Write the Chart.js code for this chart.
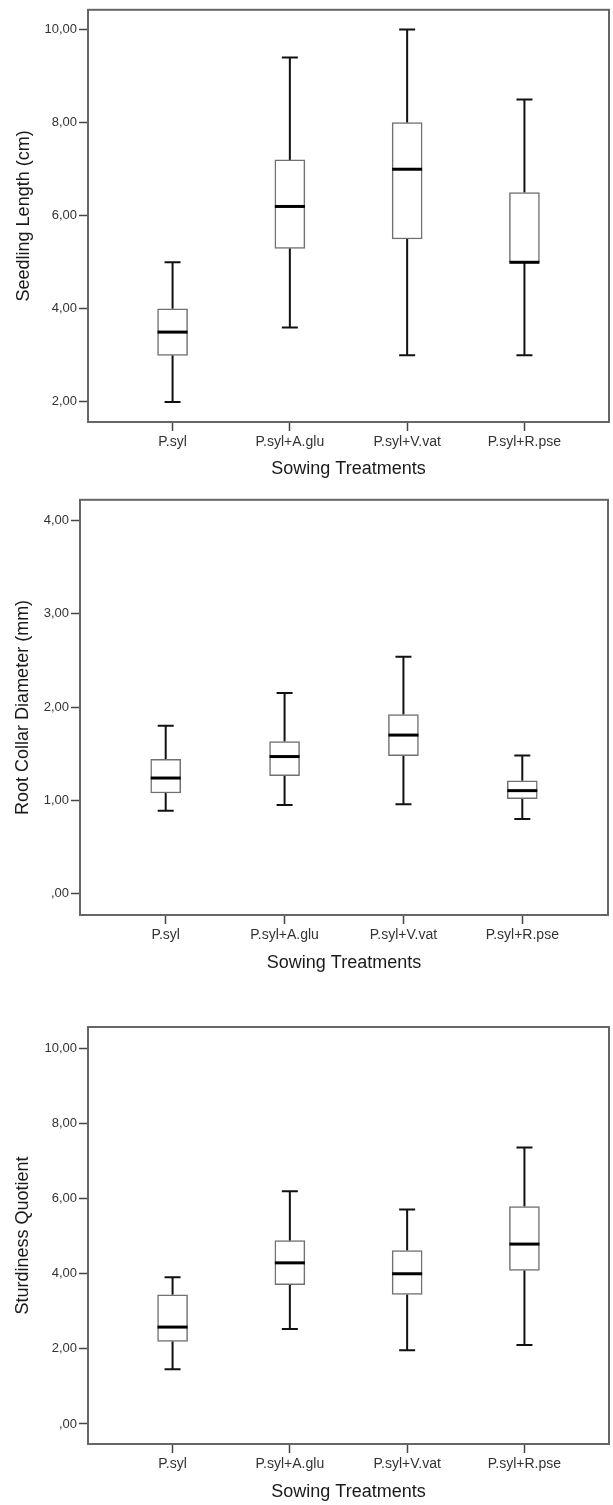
<!DOCTYPE html>
<html>
<head>
<meta charset="utf-8">
<script src="https://cdn.jsdelivr.net/npm/chart.js@4/dist/chart.umd.min.js"></script>
<style>
  html, body { margin: 0; padding: 0; background: #ffffff; }
  canvas { display: block; }
</style>
</head>
<body>
<canvas id="c1" width="613" height="490"></canvas>
<canvas id="c2" width="613" height="490"></canvas>
<canvas id="c3" width="613" height="525"></canvas>
<script>
// ---------- DATA ----------
const categories = ['P.syl', 'P.syl+A.glu', 'P.syl+V.vat', 'P.syl+R.pse'];
const xTitle = 'Sowing Treatments';

// Seedling Length (cm)
const slMin    = [2.0, 3.6, 3.0, 3.0];
const slQ1     = [3.0, 5.3, 5.5, 5.0];
const slMedian = [3.5, 6.2, 7.0, 5.0];
const slQ3     = [4.0, 7.2, 8.0, 6.5];
const slMax    = [5.0, 9.4, 10.0, 8.5];
const slTicks  = [2, 4, 6, 8, 10];
const slTickLabels = ['2,00', '4,00', '6,00', '8,00', '10,00'];

// Root Collar Diameter (mm)
const rcdMin    = [0.89, 0.95, 0.96, 0.80];
const rcdQ1     = [1.08, 1.265, 1.48, 1.02];
const rcdMedian = [1.24, 1.47, 1.70, 1.105];
const rcdQ3     = [1.44, 1.63, 1.92, 1.21];
const rcdMax    = [1.80, 2.15, 2.54, 1.48];
const rcdTicks  = [0, 1, 2, 3, 4];
const rcdTickLabels = [',00', '1,00', '2,00', '3,00', '4,00'];

// Sturdiness Quotient
const sqMin    = [1.46, 2.53, 1.96, 2.10];
const sqQ1     = [2.20, 3.71, 3.45, 4.09];
const sqMedian = [2.58, 4.29, 4.00, 4.79];
const sqQ3     = [3.44, 4.88, 4.62, 5.79];
const sqMax    = [3.91, 6.20, 5.71, 7.36];
const sqTicks  = [0, 2, 4, 6, 8, 10];
const sqTickLabels = [',00', '2,00', '4,00', '6,00', '8,00', '10,00'];

// ---------- STYLE ----------
const FONT = "'Liberation Sans', Arial, sans-serif";
const TEXT = '#1a1a1a';
const TICKTEXT = '#333333';

function makeBoxChart(id, opt) {
  const st = opt.stats;
  const boxData = categories.map((c, i) => ({ x: i, y: [st.q1[i], st.q3[i]] }));

  const whiskerPlugin = {
    id: 'whiskers_' + id,
    beforeDatasetsDraw(chart) {
      const ctx = chart.ctx, xs = chart.scales.x, ys = chart.scales.y;
      ctx.save();
      ctx.strokeStyle = '#111111';
      ctx.lineWidth = 2;
      categories.forEach((c, i) => {
        const x = xs.getPixelForValue(i);
        const yMin = ys.getPixelForValue(st.min[i]);
        const yQ1 = ys.getPixelForValue(st.q1[i]);
        const yQ3 = ys.getPixelForValue(st.q3[i]);
        const yMax = ys.getPixelForValue(st.max[i]);
        ctx.beginPath();
        ctx.moveTo(x, yQ3); ctx.lineTo(x, yMax);
        ctx.moveTo(x, yQ1); ctx.lineTo(x, yMin);
        ctx.moveTo(x - 8, yMax); ctx.lineTo(x + 8, yMax);
        ctx.moveTo(x - 8, yMin); ctx.lineTo(x + 8, yMin);
        ctx.stroke();
      });
      ctx.restore();
    },
    afterDatasetsDraw(chart) {
      const ctx = chart.ctx, xs = chart.scales.x, ys = chart.scales.y;
      ctx.save();
      ctx.strokeStyle = '#000000';
      ctx.lineWidth = 3;
      categories.forEach((c, i) => {
        const x = xs.getPixelForValue(i);
        const y = ys.getPixelForValue(st.med[i]);
        ctx.beginPath();
        ctx.moveTo(x - 15, y); ctx.lineTo(x + 15, y);
        ctx.stroke();
      });
      // frame
      const a = chart.chartArea;
      ctx.strokeStyle = '#666666';
      ctx.lineWidth = 2;
      ctx.strokeRect(a.left, a.top, a.right - a.left, a.bottom - a.top);
      ctx.restore();
    }
  };

  return new Chart(document.getElementById(id), {
    type: 'bar',
    data: {
      datasets: [{
        data: boxData,
        backgroundColor: '#ffffff',
        borderColor: '#707070',
        borderWidth: 1.5,
        borderSkipped: false,
        barThickness: 30
      }]
    },
    options: {
      responsive: false,
      animation: false,
      events: [],
      layout: { padding: opt.padding },
      plugins: { legend: { display: false }, tooltip: { enabled: false } },
      scales: {
        x: {
          type: 'linear',
          offset: false,
          min: -0.721,
          max: 3.721,
          afterBuildTicks: (s) => { s.ticks = categories.map((c, i) => ({ value: i })); },
          afterFit: (s) => { s.height = opt.xHeight; },
          border: { display: false },
          grid: { display: true, offset: false, drawOnChartArea: false, drawTicks: true, tickLength: 9, tickColor: '#444444', tickWidth: 1.5 },
          ticks: {
            autoSkip: false, maxRotation: 0, padding: 3,
            color: TICKTEXT, font: { family: FONT, size: 14 },
            callback: (v) => categories[Math.round(v)]
          },
          title: {
            display: true, text: xTitle, color: TEXT,
            font: { family: FONT, size: 18 },
            padding: { top: 0, bottom: opt.xTitlePad }
          }
        },
        y: {
          type: 'linear',
          min: opt.yMin,
          max: opt.yMax,
          afterBuildTicks: (s) => { s.ticks = opt.ticks.map(v => ({ value: v })); },
          afterFit: (s) => { s.width = opt.yWidth; },
          border: { display: false },
          grid: { display: true, drawOnChartArea: false, drawTicks: true, tickLength: 9, tickColor: '#444444', tickWidth: 1.5 },
          ticks: {
            padding: 2, color: TICKTEXT, font: { family: FONT, size: 13 },
            callback: (v, idx) => opt.tickLabels[idx]
          },
          title: {
            display: true, text: opt.yTitle, color: TEXT,
            font: { family: FONT, size: 18 },
            padding: { top: opt.yTitlePad, bottom: 0 }
          }
        }
      }
    },
    plugins: [whiskerPlugin]
  });
}

makeBoxChart('c1', {
  stats: { min: slMin, q1: slQ1, med: slMedian, q3: slQ3, max: slMax },
  ticks: slTicks, tickLabels: slTickLabels,
  yMin: 1.568, yMax: 10.426, yTitle: 'Seedling Length (cm)',
  padding: { top: 6, right: 4, left: 0, bottom: 0 },
  yWidth: 88, xHeight: 68, xTitlePad: 10, yTitlePad: 13
});

makeBoxChart('c2', {
  stats: { min: rcdMin, q1: rcdQ1, med: rcdMedian, q3: rcdQ3, max: rcdMax },
  ticks: rcdTicks, tickLabels: rcdTickLabels,
  yMin: -0.227, yMax: 4.22, yTitle: 'Root Collar Diameter (mm)',
  padding: { top: 8, right: 5, left: 0, bottom: 0 },
  yWidth: 80, xHeight: 65, xTitlePad: 6.5, yTitlePad: 12
});

makeBoxChart('c3', {
  stats: { min: sqMin, q1: sqQ1, med: sqMedian, q3: sqQ3, max: sqMax },
  ticks: sqTicks, tickLabels: sqTickLabels,
  yMin: -0.533, yMax: 10.57, yTitle: 'Sturdiness Quotient',
  padding: { top: 47, right: 4, left: 0, bottom: 0 },
  yWidth: 88, xHeight: 61, xTitlePad: 2.5, yTitlePad: 12.5
});
</script>
</body>
</html>
